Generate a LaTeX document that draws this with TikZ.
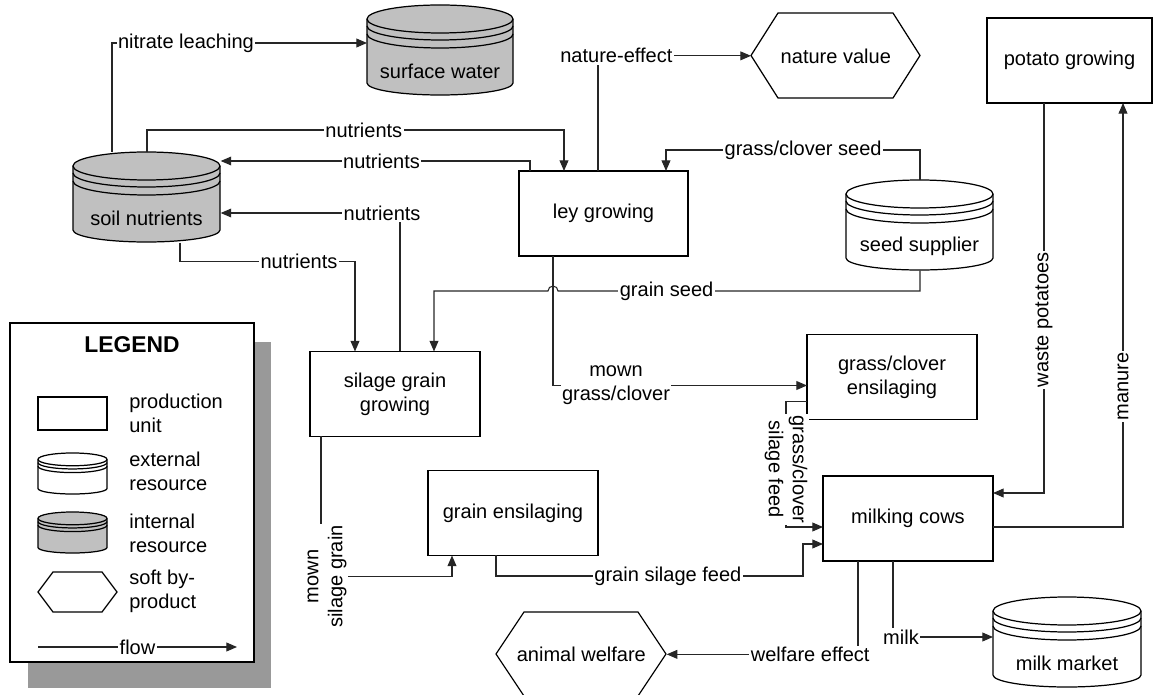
\documentclass[tikz,border=0pt]{standalone}
\usepackage{fontspec}
\setmainfont{Liberation Sans}
\usetikzlibrary{arrows.meta, calc}

\definecolor{resourcegray}{HTML}{C0C0C0}
\definecolor{shadowgray}{HTML}{999999}

\newcommand{\pix}{0.02cm}

% Resource drum: name, left, top, width, height, fill, text
\newcommand{\tank}[7]{
	\node [minimum width = #4 * \pix, minimum height = #5 * \pix, inner sep = 0, anchor = north west] (#1) at (#2, #3) {};
	\draw [unitline, fill = #6] (#2, {#3 + 14/90*#5}) -- (#2, {#3 + 78/90*#5})
		arc [start angle = 180, end angle = 360, x radius = {#4/2*\pix}, y radius = {12/90*#5*\pix}]
		-- ({#2 + #4}, {#3 + 14/90*#5})
		arc [start angle = 0, end angle = 180, x radius = {#4/2*\pix}, y radius = {14/90*#5*\pix}] -- cycle;
	\foreach \off in {0, 7, 15}
		\draw [unitline] (#2, {#3 + (14 + \off)/90*#5}) arc [start angle = 180, end angle = 360, x radius = {#4/2*\pix}, y radius = {14/90*#5*\pix}];
	\node (#1-text) at ({#2 + #4/2}, {#3 + 66/90*#5}) {#7};
}

% Soft by-product: name, left, top, width, height, slant, text
\newcommand{\softhex}[7]{
	\node [minimum width = #4 * \pix, minimum height = #5 * \pix, inner sep = 0, anchor = north west] (#1) at (#2, #3) {#7};
	\draw [unitline] (#2, {#3 + #5/2}) -- ({#2 + #6}, #3) -- ({#2 + #4 - #6}, #3) -- ({#2 + #4}, {#3 + #5/2})
		-- ({#2 + #4 - #6}, {#3 + #5}) -- ({#2 + #6}, {#3 + #5}) -- cycle;
}

\begin{document}
\begin{tikzpicture}[x = 0.02cm, y = -0.02cm,
	> = {Triangle[length = 6pt, width = 5pt]},
	every node/.style = {font = \fontsize{11.4}{13.7}\selectfont},
	unitline/.style = {line width = 0.7pt},
	unit/.style = {draw, line width = 0.7pt, minimum width = 170 * \pix, minimum height = 85 * \pix, inner sep = 0, outer sep = 0, align = center},
	flow/.style = {->, line width = 0.6pt, black!85},
	flowtext/.style = {fill = white, inner sep = 0.8pt, align = center, text = black},
	legendtext/.style = {anchor = west, align = left, inner sep = 0}]

	% Picture frame

	\useasboundingbox (0, 0) rectangle (1153, 695);

	% Legend

	\fill [shadowgray] (28, 342) rectangle (271, 688);
	\draw [unitline, fill = white] (10, 323) rectangle (254, 662);
	\node [font = \fontsize{13}{15}\selectfont\bfseries] (legend-title) at (132, 345) {LEGEND};
	\node [unit, minimum width = 69 * \pix, minimum height = 33 * \pix] (legend-unit) at (72.5, 413.5) {};
	\tank{legend-ext}{38}{453}{69}{41}{white}{}
	\tank{legend-int}{38}{512}{69}{41}{resourcegray}{}
	\softhex{legend-soft}{38}{572}{79}{40}{15}{}
	\node [legendtext] (legend-unit-text) at (129, 413) {production\\unit};
	\node [legendtext] (legend-ext-text) at (129, 471) {external\\resource};
	\node [legendtext] (legend-int-text) at (129, 533) {internal\\resource};
	\node [legendtext] (legend-soft-text) at (129, 591) {soft by-\\product};
	\coordinate (legend-flow-start) at (38, 647);
	\coordinate (legend-flow-end) at (237, 647);
	\draw [flow] (legend-flow-start) -- node [flowtext] {flow} (legend-flow-end);

	% Resources

	\tank{soil}{73}{152}{147}{90}{resourcegray}{soil nutrients}
	\tank{surface}{367}{5}{146}{90}{resourcegray}{surface water}
	\tank{seed}{846}{180}{147}{90}{white}{seed supplier}
	\tank{market}{993}{597}{148}{90}{white}{milk market}

	% Production units

	\node [unit, minimum width = 169 * \pix] (ley) at (603.5, 213.5) {ley growing};
	\node [unit] (silage) at (395, 394) {silage grain\\growing};
	\node [unit] (grainens) at (513, 513) {grain ensilaging};
	\node [unit] (grassens) at (892, 377) {grass/clover\\ensilaging};
	\node [unit] (cows) at (908, 518.5) {milking cows};
	\node [unit, minimum width = 165 * \pix] (potato) at (1069.5, 60.5) {potato growing};

	% Soft by-products

	\softhex{nature}{751}{13}{169}{85}{27}{nature value}
	\softhex{welfare}{496}{612}{170}{84}{28}{animal welfare}

	% Flows around the soil

	\draw [flow] ($(soil.north west) + (39, 0)$) |- node [flowtext, pos = 0.645] {nitrate leaching} ($(surface.north west) + (0, 38)$);
	\draw [flow] ($(soil.north west) + (74, 0)$) |- node [flowtext, pos = 0.76] {nutrients} ($(ley.north west) + (45, -41)$) -- ($(ley.north west) + (45, 0)$);
	\draw [flow] ($(ley.north west) + (11, 0)$) |- node [flowtext, pos = 0.74] {nutrients} ($(soil.north east) + (0, 9)$);
	\draw [flow] ($(silage.north west) + (90, 0)$) |- node [flowtext, pos = 0.55] {nutrients} ($(soil.north east) + (0, 61)$);
	\draw [flow] ($(soil.south west) + (107, 0)$) |- node [flowtext, pos = 0.84] {nutrients} ($(silage.north west) + (45, -90)$) -- ($(silage.north west) + (45, 0)$);

	% Seeds and nature

	\draw [flow] ($(seed.north west) + (74, 0)$) |- node [flowtext, pos = 0.73] {grass/clover seed} ($(ley.north west) + (147, -21)$) -- ($(ley.north west) + (147, 0)$);
	\draw [flow] ($(ley.north west) + (79, 0)$) |- node [flowtext, pos = 0.56] {nature-effect} (nature.west);
	\draw [flow] ($(seed.south west) + (74, 0)$) |- node [flowtext, pos = 0.85] {grain seed} ($(ley.south west) + (39, 35)$)
		arc [start angle = 0, end angle = 180, radius = 5 * \pix] -| ($(silage.north west) + (124, 0)$);

	% Feed chain

	\draw [flow] ($(ley.south west) + (34, 0)$) |- node [flowtext, pos = 0.624] {mown\\grass/clover} ($(grassens.north west) + (0, 51)$);
	\draw [flow] ($(grassens.north west) + (0, 67)$) -| node [flowtext, pos = 0.77, rotate = -90] {grass/clover\\silage feed} ($(cows.north west) + (-37, 51)$) -- ($(cows.north west) + (0, 51)$);
	\draw [flow] ($(silage.south west) + (11, 0)$) |- node [flowtext, pos = 0.5, xshift = 3.5pt, rotate = 90] {mown\\silage grain} ($(grainens.south west) + (24, 21)$) -- ($(grainens.south west) + (24, 0)$);
	\draw [flow] ($(grainens.south west) + (68, 0)$) |- node [flowtext, pos = 0.78] {grain silage feed} ($(cows.north west) + (-20, 100)$) |- ($(cows.north west) + (0, 68)$);
	\draw [flow] ($(potato.south west) + (57, 0)$) |- node [flowtext, pos = 0.278, rotate = 90] {waste potatoes} ($(cows.north east) + (0, 17)$);
	\draw [flow] ($(cows.north east) + (0, 51)$) -| node [flowtext, pos = 0.666, rotate = 90] {manure} ($(potato.south west) + (136, 0)$);

	% Outputs of the cows

	\draw [flow] ($(cows.south west) + (35, 0)$) |- node [flowtext, pos = 0.625] {welfare effect} (welfare.east);
	\draw [flow] ($(cows.south west) + (70, 0)$) |- node [flowtext, pos = 0.54] {milk} ($(market.north west) + (0, 40)$);

\end{tikzpicture}
\end{document}
